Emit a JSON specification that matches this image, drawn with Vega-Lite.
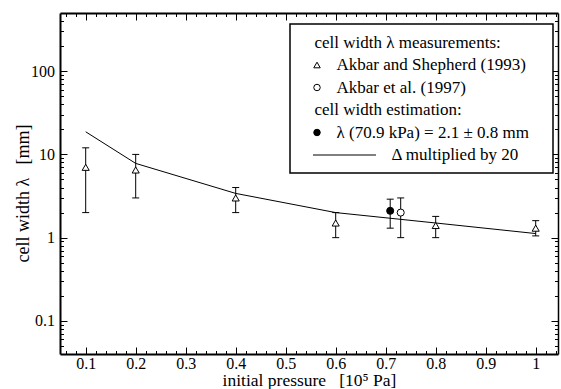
{
  "$schema": "https://vega.github.io/schema/vega-lite/v6.json",
  "width": 498,
  "height": 341,
  "autosize": {"type": "none"},
  "padding": {"left": 60, "top": 13, "right": 3, "bottom": 35},
  "background": "white",
  "config": {
    "view": {"stroke": null},
    "font": "Liberation Serif",
    "style": {
      "guide-label": {"font": "Liberation Serif", "fill": "black"},
      "guide-title": {"font": "Liberation Serif", "fill": "black", "fontWeight": "normal"}
    },
    "axis": {
      "grid": false,
      "domainColor": "black",
      "tickColor": "black",
      "labelColor": "black",
      "titleColor": "black",
      "labelFont": "Liberation Serif",
      "titleFont": "Liberation Serif",
      "titleFontWeight": "normal",
      "labelFlush": false,
      "labelOverlap": false
    },
    "legend": {
      "labelFont": "Liberation Serif",
      "labelFontSize": 17,
      "labelColor": "black",
      "labelLimit": 400
    }
  },
  "datasets": {
    "curve": [
      {"p": 0.1, "w": 18.7},
      {"p": 0.2, "w": 7.8},
      {"p": 0.4, "w": 3.4},
      {"p": 0.6, "w": 2.0},
      {"p": 0.8, "w": 1.5},
      {"p": 1.0, "w": 1.12}
    ],
    "pts": [
      {"p": 0.1, "w": 7, "lo": 2, "hi": 12, "src": "Akbar and Shepherd (1993)"},
      {"p": 0.2, "w": 6.5, "lo": 3, "hi": 10, "src": "Akbar and Shepherd (1993)"},
      {"p": 0.4, "w": 3, "lo": 2, "hi": 4, "src": "Akbar and Shepherd (1993)"},
      {"p": 0.6, "w": 1.5, "lo": 1, "hi": 2, "src": "Akbar and Shepherd (1993)"},
      {"p": 0.8, "w": 1.4, "lo": 1, "hi": 1.8, "src": "Akbar and Shepherd (1993)"},
      {"p": 1.0, "w": 1.3, "lo": 1.05, "hi": 1.6, "src": "Akbar and Shepherd (1993)"},
      {"p": 0.709, "w": 2.1, "lo": 1.3, "hi": 2.9, "src": "λ (70.9 kPa) = 2.1 ± 0.8 mm"},
      {"p": 0.73, "w": 2.0, "lo": 1.0, "hi": 3.0, "src": "Akbar et al. (1997)"}
    ]
  },
  "resolve": {"axis": {"x": "independent", "y": "independent"}},
  "layer": [
    {
      "data": {"name": "curve"},
      "mark": {"type": "line", "color": "black", "strokeWidth": 1},
      "encoding": {
        "x": {
          "field": "p", "type": "quantitative",
          "scale": {"domain": [0.0486, 1.0446], "nice": false, "zero": false},
          "axis": {
            "orient": "bottom",
            "values": [0.1, 0.2, 0.3, 0.4, 0.5, 0.6, 0.7, 0.8, 0.9, 1.0],
            "format": "~g",
            "tickSize": -7, "tickWidth": 1, "domainWidth": 2,
            "labelFont": "Liberation Serif", "labelFontSize": 16, "labelPadding": 8,
            "title": "initial pressure\u00a0\u00a0\u00a0[10\u2075 Pa]",
            "titleFont": "Liberation Serif", "titleFontSize": 17.5, "titleY": 31.5, "titleBaseline": "alphabetic"
          }
        },
        "y": {
          "field": "w", "type": "quantitative",
          "scale": {"type": "log", "domain": [0.04, 500], "nice": false},
          "axis": {
            "orient": "left",
            "values": [0.1, 1, 10, 100],
            "format": "~g",
            "tickSize": -7, "tickWidth": 1, "domainWidth": 2,
            "labelFont": "Liberation Serif", "labelFontSize": 16, "labelPadding": 12.5,
            "title": "cell width λ\u00a0\u00a0\u00a0[mm]",
            "titleFont": "Liberation Serif", "titleFontSize": 18, "titleX": -32, "titleY": 180, "titleBaseline": "alphabetic"
          }
        }
      }
    },
    {
      "data": {"name": "pts"},
      "mark": {"type": "rule", "color": "black", "strokeWidth": 1},
      "encoding": {
        "x": {
          "field": "p", "type": "quantitative",
          "scale": {"domain": [0.0486, 1.0446], "nice": false, "zero": false},
          "axis": {
            "orient": "bottom",
            "values": [0.06, 0.08, 0.12, 0.14, 0.16, 0.18, 0.22, 0.24, 0.26, 0.28, 0.32, 0.34, 0.36, 0.38, 0.42, 0.44, 0.46, 0.48, 0.52, 0.54, 0.56, 0.58, 0.62, 0.64, 0.66, 0.68, 0.72, 0.74, 0.76, 0.78, 0.82, 0.84, 0.86, 0.88, 0.92, 0.94, 0.96, 0.98, 1.02, 1.04],
            "tickSize": -3.5, "tickWidth": 1, "labels": false, "domain": false, "title": null
          }
        },
        "y": {
          "field": "lo", "type": "quantitative",
          "scale": {"type": "log", "domain": [0.04, 500], "nice": false},
          "axis": {
            "orient": "left",
            "values": [0.05, 0.06, 0.07, 0.08, 0.09, 0.2, 0.3, 0.4, 0.5, 0.6, 0.7, 0.8, 0.9, 2, 3, 4, 5, 6, 7, 8, 9, 20, 30, 40, 50, 60, 70, 80, 90, 200, 300, 400],
            "tickSize": -3.5, "tickWidth": 1, "labels": false, "domain": false, "title": null
          }
        },
        "y2": {"field": "hi"}
      }
    },
    {
      "data": {"name": "pts"},
      "mark": {"type": "tick", "orient": "horizontal", "size": 7, "thickness": 1, "color": "black", "opacity": 1},
      "encoding": {
        "x": {
          "field": "p", "type": "quantitative",
          "scale": {"domain": [0.0486, 1.0446], "nice": false, "zero": false},
          "axis": {
            "orient": "top",
            "values": [0.1, 0.2, 0.3, 0.4, 0.5, 0.6, 0.7, 0.8, 0.9, 1.0],
            "tickSize": -7, "tickWidth": 1, "labels": false, "domainWidth": 2, "title": null
          }
        },
        "y": {
          "field": "hi", "type": "quantitative",
          "scale": {"type": "log", "domain": [0.04, 500], "nice": false},
          "axis": {
            "orient": "right",
            "values": [0.1, 1, 10, 100],
            "tickSize": -7, "tickWidth": 1, "labels": false, "domainWidth": 1.5, "title": null
          }
        }
      }
    },
    {
      "data": {"name": "pts"},
      "mark": {"type": "tick", "orient": "horizontal", "size": 7, "thickness": 1, "color": "black", "opacity": 1},
      "encoding": {
        "x": {
          "field": "p", "type": "quantitative",
          "scale": {"domain": [0.0486, 1.0446], "nice": false, "zero": false},
          "axis": {
            "orient": "top",
            "values": [0.06, 0.08, 0.12, 0.14, 0.16, 0.18, 0.22, 0.24, 0.26, 0.28, 0.32, 0.34, 0.36, 0.38, 0.42, 0.44, 0.46, 0.48, 0.52, 0.54, 0.56, 0.58, 0.62, 0.64, 0.66, 0.68, 0.72, 0.74, 0.76, 0.78, 0.82, 0.84, 0.86, 0.88, 0.92, 0.94, 0.96, 0.98, 1.02, 1.04],
            "tickSize": -3.5, "tickWidth": 1, "labels": false, "domain": false, "title": null
          }
        },
        "y": {
          "field": "lo", "type": "quantitative",
          "scale": {"type": "log", "domain": [0.04, 500], "nice": false},
          "axis": {
            "orient": "right",
            "values": [0.05, 0.06, 0.07, 0.08, 0.09, 0.2, 0.3, 0.4, 0.5, 0.6, 0.7, 0.8, 0.9, 2, 3, 4, 5, 6, 7, 8, 9, 20, 30, 40, 50, 60, 70, 80, 90, 200, 300, 400],
            "tickSize": -3.5, "tickWidth": 1, "labels": false, "domain": false, "title": null
          }
        }
      }
    },
    {
      "data": {"name": "pts"},
      "mark": {"type": "point", "filled": true, "size": 50, "strokeWidth": 1, "opacity": 1},
      "encoding": {
        "x": {
          "field": "p", "type": "quantitative",
          "scale": {"domain": [0.0486, 1.0446], "nice": false, "zero": false},
          "axis": null
        },
        "y": {
          "field": "w", "type": "quantitative",
          "scale": {"type": "log", "domain": [0.04, 500], "nice": false},
          "axis": null
        },
        "shape": {
          "field": "src", "type": "nominal",
          "scale": {
            "domain": ["cell width λ measurements:", "Akbar and Shepherd (1993)", "Akbar et al. (1997)", "cell width estimation:", "λ (70.9 kPa) = 2.1 ± 0.8 mm", "Δ multiplied by 20"],
            "range": ["M0,0H69", "triangle-up", "circle", "M0,0H69", "circle", "M-1.23,0H18.2"]
          },
          "legend": {
            "title": null, "orient": "none", "legendX": 230, "legendY": 11, "padding": 10,
            "strokeColor": "black", "fillColor": "white",
            "labelFont": "Liberation Serif", "labelFontSize": 17, "labelColor": "black", "labelLimit": 400,
            "symbolSize": 42, "symbolStrokeWidth": 1, "symbolOffset": 8.5, "labelOffset": 4, "rowPadding": 4.5, "symbolOpacity": 1,
            "encode": {
              "legend": {"update": {"strokeWidth": {"value": 1.5}}},
              "labels": {"update": {"font": {"value": "Liberation Serif"}, "dx": {"signal": "(datum.label === 'cell width λ measurements:' || datum.label === 'cell width estimation:') ? -15 : (datum.label === 'Δ multiplied by 20' ? 62 : 7)"}}}
            }
          }
        },
        "fill": {
          "field": "src", "type": "nominal",
          "scale": {
            "domain": ["cell width λ measurements:", "Akbar and Shepherd (1993)", "Akbar et al. (1997)", "cell width estimation:", "λ (70.9 kPa) = 2.1 ± 0.8 mm", "Δ multiplied by 20"],
            "range": ["transparent", "white", "white", "transparent", "black", "transparent"]
          },
          "legend": {
            "title": null, "orient": "none", "legendX": 230, "legendY": 11, "padding": 10,
            "strokeColor": "black", "fillColor": "white",
            "labelFont": "Liberation Serif", "labelFontSize": 17, "labelColor": "black", "labelLimit": 400,
            "symbolSize": 42, "symbolStrokeWidth": 1, "symbolOffset": 8.5, "labelOffset": 4, "rowPadding": 4.5, "symbolOpacity": 1,
            "encode": {
              "legend": {"update": {"strokeWidth": {"value": 1.5}}},
              "labels": {"update": {"font": {"value": "Liberation Serif"}, "dx": {"signal": "(datum.label === 'cell width λ measurements:' || datum.label === 'cell width estimation:') ? -15 : (datum.label === 'Δ multiplied by 20' ? 62 : 7)"}}}
            }
          }
        },
        "stroke": {
          "field": "src", "type": "nominal",
          "scale": {
            "domain": ["cell width λ measurements:", "Akbar and Shepherd (1993)", "Akbar et al. (1997)", "cell width estimation:", "λ (70.9 kPa) = 2.1 ± 0.8 mm", "Δ multiplied by 20"],
            "range": ["transparent", "black", "black", "transparent", "black", "black"]
          },
          "legend": {
            "title": null, "orient": "none", "legendX": 230, "legendY": 11, "padding": 10,
            "strokeColor": "black", "fillColor": "white",
            "labelFont": "Liberation Serif", "labelFontSize": 17, "labelColor": "black", "labelLimit": 400,
            "symbolSize": 42, "symbolStrokeWidth": 1, "symbolOffset": 8.5, "labelOffset": 4, "rowPadding": 4.5, "symbolOpacity": 1,
            "encode": {
              "legend": {"update": {"strokeWidth": {"value": 1.5}}},
              "labels": {"update": {"font": {"value": "Liberation Serif"}, "dx": {"signal": "(datum.label === 'cell width λ measurements:' || datum.label === 'cell width estimation:') ? -15 : (datum.label === 'Δ multiplied by 20' ? 62 : 7)"}}}
            }
          }
        }
      }
    }
  ]
}
